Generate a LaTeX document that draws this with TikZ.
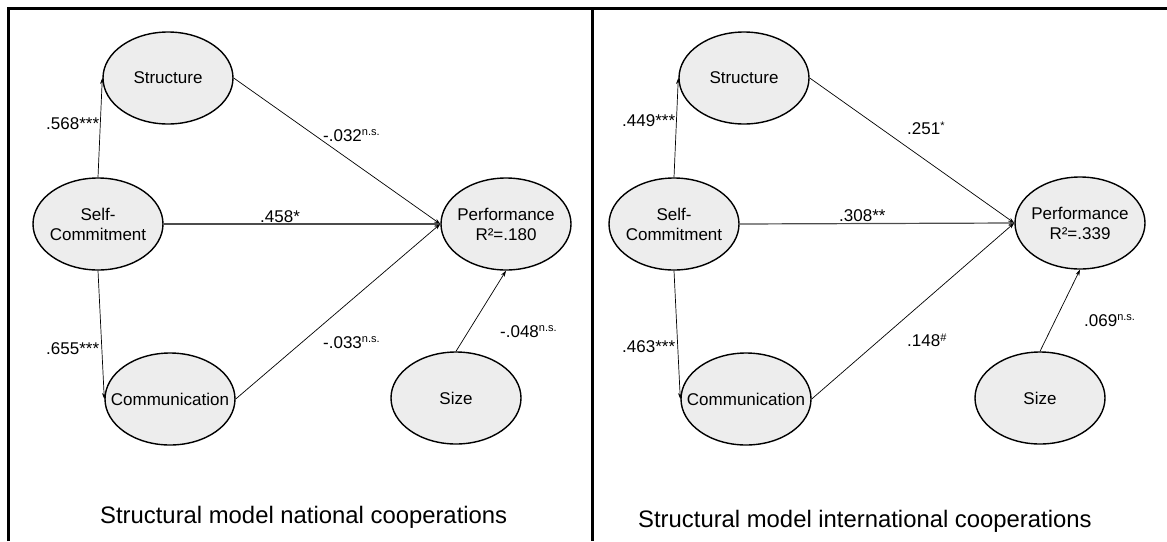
\documentclass[tikz,border=0pt]{standalone}
\usepackage{fontspec}
\setmainfont{Liberation Sans}
\usetikzlibrary{shapes.geometric,arrows.meta}
\definecolor{nodefill}{HTML}{EDEDED}
\tikzset{
  lat/.style={ellipse, draw=black, line width=1.4pt, fill=nodefill,
    minimum width=130pt, minimum height=92pt, inner sep=0pt},
  ntxt/.style={inner sep=0pt, align=center, font=\fontsize{17}{20}\selectfont},
  lnk/.style={draw=black, line width=0.7pt, -{Stealth[length=6pt,width=4pt]}},
  lnkh/.style={draw=black!70, line width=1.2pt, -{Stealth[length=6pt,width=4.5pt]}},
  lbl/.style={anchor=base west, inner sep=0pt, font=\fontsize{17}{20}\selectfont},
  ttl/.style={anchor=base west, inner sep=0pt, font=\fontsize{23.85}{28}\selectfont},
  framel/.style={line width=3pt, draw=black}
}
\newcommand{\sns}{\raisebox{6pt}{\fontsize{11}{11}\selectfont n.s.}}
\newcommand{\ssup}[1]{\raisebox{5pt}{\fontsize{11}{11}\selectfont #1}}
\begin{document}
\begin{tikzpicture}[x=1pt,y=-1pt]
\useasboundingbox (0,0) rectangle (1167,541);
% frame
\coordinate (ftl) at (8,8);
\coordinate (ftr) at (1167,8);
\coordinate (fbl) at (8,541);
\coordinate (dtop) at (592,8);
\coordinate (dbot) at (592,541);
\draw[framel] (fbl) -- (ftl) -- (ftr);
\draw[framel] (dtop) -- (dbot);

% ---------- left panel ----------
\node[lat] (Ls) at (168,78) {};
\node[ntxt] (Ls-t) at (Ls) {Structure};
\node[lat] (Lsc) at (98,224) {};
\node[ntxt] (Lsc-t) at (Lsc) {Self-\\Commitment};
\node[lat] (Lp) at (506,224) {};
\node[ntxt] (Lp-t) at (Lp) {Performance\\R²=.180};
\node[lat] (Lc) at (170,399) {};
\node[ntxt] (Lc-t) at (Lc) {Communication};
\node[lat] (Lz) at (456,398) {};
\node[ntxt] (Lz-t) at (Lz) {Size};

\draw[lnk] (Lsc.north) -- (Ls.west);
\draw[lnk] (Lsc.south) -- (Lc.west);
\draw[lnk] (Ls.east) -- (Lp.west);
\draw[lnkh] (Lsc.east) -- (Lp.west);
\draw[lnk] (Lc.east) -- (Lp.west);
\draw[lnk] (Lz.north) -- (Lp.south);

\node[lbl] (L1) at (46,129) {.568***};
\node[lbl] (L2) at (323,141) {-.032\sns};
\node[lbl] (L3) at (260,222) {.458*};
\node[lbl] (L4) at (46,354) {.655***};
\node[lbl] (L5) at (323,348) {-.033\sns};
\node[lbl] (L6) at (500,337) {-.048\sns};
\node[ttl] (Lt) at (100,523) {Structural model national cooperations};

% ---------- right panel ----------
\node[lat] (Rs) at (744,78) {};
\node[ntxt] (Rs-t) at (Rs) {Structure};
\node[lat] (Rsc) at (674,224) {};
\node[ntxt] (Rsc-t) at (Rsc) {Self-\\Commitment};
\node[lat] (Rp) at (1080,223) {};
\node[ntxt] (Rp-t) at (Rp) {Performance\\R²=.339};
\node[lat] (Rc) at (746,399) {};
\node[ntxt] (Rc-t) at (Rc) {Communication};
\node[lat] (Rz) at (1040,398) {};
\node[ntxt] (Rz-t) at (Rz) {Size};

\draw[lnk] (Rsc.north) -- (Rs.west);
\draw[lnk] (Rsc.south) -- (Rc.west);
\draw[lnk] (Rs.east) -- (Rp.west);
\draw[lnkh] (Rsc.east) -- (Rp.west);
\draw[lnk] (Rc.east) -- (Rp.west);
\draw[lnk] (Rz.north) -- (Rp.south);

\node[lbl] (R1) at (622,126) {.449***};
\node[lbl] (R2) at (907,134) {.251\ssup{*}};
\node[lbl] (R3) at (839,221) {.308**};
\node[lbl] (R4) at (622,352) {.463***};
\node[lbl] (R5) at (907,346) {.148\ssup{\#}};
\node[lbl] (R6) at (1084,326) {.069\sns};
\node[ttl] (Rt) at (638,527) {Structural model international cooperations};
\end{tikzpicture}
\end{document}
